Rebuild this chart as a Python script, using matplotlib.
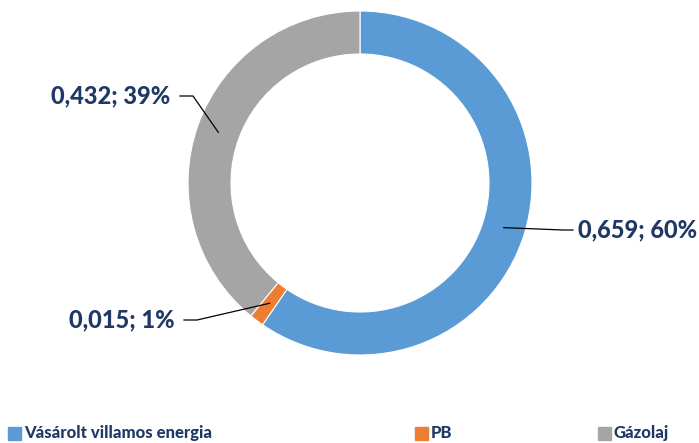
import matplotlib.pyplot as plt
from matplotlib.patches import Rectangle
import numpy as np

categories = ["Vásárolt villamos energia", "PB", "Gázolaj"]
values = [0.659, 0.015, 0.432]
percents = [60, 1, 39]
colors = ["#5B9BD5", "#ED7D31", "#A5A5A5"]

W, H = 699, 443
text_color = "#1F3864"
font = "Lato"

fig = plt.figure(figsize=(W / 100, H / 100), dpi=100)
ax = fig.add_axes([0, 0, 1, 1])

# pie in pixel-like data coords (y up)
cx, cy, r_out, ring = 360, H - 183, 172, 43
wedges, _ = ax.pie(
    values,
    colors=colors,
    startangle=90,
    counterclock=False,
    center=(cx, cy),
    radius=r_out,
    wedgeprops=dict(width=ring, edgecolor="white", linewidth=0.8),
)
ax.set_xlim(0, W)
ax.set_ylim(0, H)
ax.set_aspect("auto")
ax.axis("off")

# data labels with leader lines: (text x, text y, ha, elbow x)
label_pos = [
    (578, 230, "left", 563),
    (175, 320, "right", 184),
    (170, 96, "right", 180),
]
r_mid = r_out - ring / 2
for w, v, p, (tx, ty, ha, ex) in zip(wedges, values, percents, label_pos):
    ang = np.deg2rad((w.theta1 + w.theta2) / 2)
    px, py = cx + r_mid * np.cos(ang), cy + r_mid * np.sin(ang)
    ey = H - ty
    if ha == "left":
        ax.plot([px, ex, ex + 10], [py, ey, ey], color="black", lw=0.9)
    else:
        ax.plot([px, ex + 13, ex], [py, ey, ey], color="black", lw=0.9)
    label = f"{v:.3f}".replace(".", ",") + f"; {p}%"
    ax.text(tx, ey, label, ha=ha, va="center", fontsize=17,
            fontweight="black", color=text_color, family=font)

# legend drawn along the bottom
legend_x = [8, 415, 598]
for name, col, lx in zip(categories, colors, legend_x):
    ax.add_patch(Rectangle((lx, H - 440), 13, 13, color=col))
    ax.text(lx + 16, H - 433, name, ha="left", va="center", fontsize=12,
            fontweight="black", color=text_color, family=font)

fig.savefig("out.png", dpi=100)
